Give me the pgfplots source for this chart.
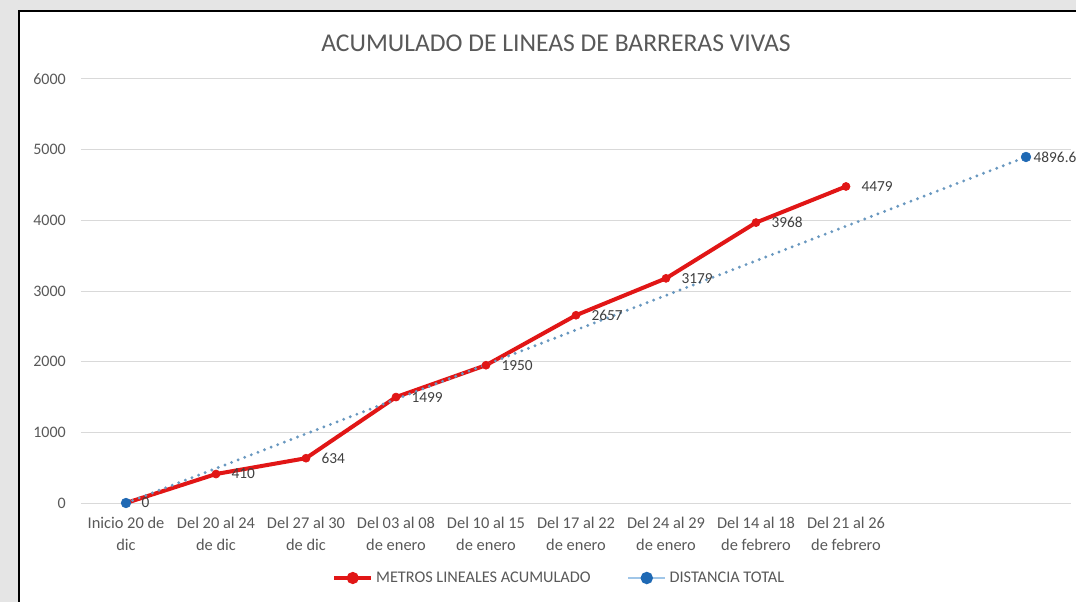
\documentclass[border=0pt]{standalone}
\usepackage{pgfplots}
\pgfplotsset{compat=1.18}
\usepackage{fontspec}
\setmainfont{Carlito}
\definecolor{txt}{HTML}{595959}
\definecolor{lbl}{HTML}{404040}
\definecolor{gridc}{HTML}{D9D9D9}
\definecolor{myred}{RGB}{225,22,22}
\definecolor{mblue}{RGB}{31,105,180}
\definecolor{dotblue}{RGB}{105,152,192}
\definecolor{lblue}{RGB}{160,198,232}
\definecolor{bg}{HTML}{E5E5E5}
\begin{document}
\begin{tikzpicture}
\path[use as bounding box] (0,0) rectangle (807pt,-451.5pt);
\clip (0,0) rectangle (807pt,-451.5pt);
\fill[bg] (0,0) rectangle (807pt,-451.5pt);
\filldraw[fill=white, draw=black, line width=1.5pt] (14.6pt,-8pt) rectangle (830pt,-470pt);
\node[text=txt, font=\fontsize{19.2}{22}\selectfont, inner sep=0pt] at (417pt,-32.25pt) {ACUMULADO DE LINEAS DE BARRERAS VIVAS};
\begin{axis}[
 at={(60.75pt,-377.25pt)}, anchor=south west,
 scale only axis, width=742.5pt, height=318pt,
 xmin=-0.5, xmax=10.5, ymin=0, ymax=6000,
 clip=false,
 xtick={0,...,8}, ytick={0,1000,...,6000},
 xticklabels={{Inicio 20 de\\dic},{Del 20 al 24\\de dic},{Del 27 al 30\\de dic},{Del 03 al 08\\de enero},{Del 10 al 15\\de enero},{Del 17 al 22\\de enero},{Del 24 al 29\\de enero},{Del 14 al 18\\de febrero},{Del 21 al 26\\de febrero}},
 /pgf/number format/.cd, 1000 sep={}, assume math mode=true, /pgfplots/.cd,
 major tick length=0pt,
 axis line style={draw=none},
 ymajorgrids,
 grid style={gridc, line width=0.75pt},
 xticklabel style={text=txt, font=\fontsize{12.3}{16.5}\selectfont, align=center, inner sep=0pt, anchor=north, yshift=-10.5pt},
 yticklabel style={text=txt, font=\fontsize{12}{14}\selectfont, inner sep=0pt, anchor=east, xshift=-11.25pt},
 legend style={at={(0.4833,-0.1769)}, anchor=center, draw=none, fill=none, font=\fontsize{12.2}{14}\selectfont, text=txt, /tikz/every even column/.append style={column sep=25pt}},
 legend columns=2, legend cell align=left,
]
\addplot[myred, line width=3pt, mark=*, mark size=3pt, mark options={fill=myred, draw=myred, line width=0.5pt},
 nodes near coords,
 every node near coord/.append style={anchor=west, xshift=11.5pt, yshift=0pt, text=lbl, font=\fontsize{11.5}{12}\selectfont, inner sep=0pt},
 legend image code/.code={\draw[solid, myred, line width=3pt] (0pt,0pt) -- (28pt,0pt); \fill[myred] (14pt,0pt) circle (3pt);}]
 coordinates {(0,0) (1,410) (2,634) (3,1499) (4,1950) (5,2657) (6,3179) (7,3968) (8,4479)};
\addlegendentry{METROS LINEALES ACUMULADO}
\addplot[dotblue, line width=2.4pt, line cap=round, dash pattern=on 0pt off 5.3pt, mark=*, mark size=3.6pt, mark options={solid, fill=mblue, draw=mblue, line width=0.5pt},
 point meta=explicit symbolic, nodes near coords,
 every node near coord/.append style={anchor=west, xshift=5.5pt, yshift=0pt, text=lbl, font=\fontsize{11.5}{12}\selectfont, inner sep=0pt},
 legend image code/.code={\draw[solid, line cap=butt, lblue, line width=2.2pt] (0pt,0pt) -- (28pt,0pt); \fill[solid, mblue] (14pt,0pt) circle (3.4pt);}]
 coordinates {(0,0) [] (10,4896.6) [4896.6]};
\addlegendentry{DISTANCIA TOTAL}
\end{axis}
\end{tikzpicture}
\end{document}
